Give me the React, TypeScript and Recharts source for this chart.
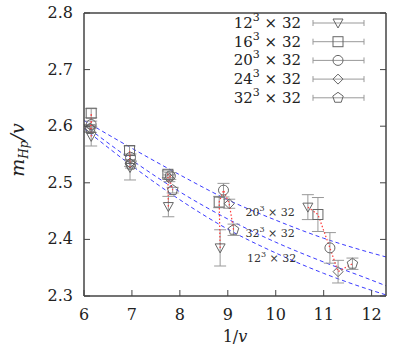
import React from "react";
import { ComposedChart, Scatter, Line, XAxis, YAxis, ErrorBar, ReferenceDot, Legend, Label } from "recharts";

// lattice sizes L (L^3 x 32)
const sizes = ["12", "16", "20", "24", "32"];
const xTicks = [6, 7, 8, 9, 10, 11, 12];
const yTicks = [2.3, 2.4, 2.5, 2.6, 2.7, 2.8];

// 1/v, m_Hp/v and errors, one array each per lattice
const invV12 = [6.15, 6.96, 7.76, 8.84, 10.67];
const m12 = [2.582, 2.527, 2.458, 2.385, 2.457];
const err12 = [0.017, 0.022, 0.018, 0.032, 0.022];

const invV16 = [6.15, 6.95, 7.75, 8.82, 10.88];
const m16 = [2.623, 2.557, 2.515, 2.466, 2.444];
const err16 = [0.008, 0.008, 0.006, 0.01, 0.03];

const invV20 = [6.15, 6.97, 7.8, 8.91, 11.13];
const m20 = [2.603, 2.545, 2.512, 2.487, 2.385];
const err20 = [0.006, 0.006, 0.006, 0.012, 0.027];

const invV24 = [6.12, 6.96, 7.78, 9.03, 11.3];
const m24 = [2.597, 2.535, 2.508, 2.463, 2.343];
const err24 = [0.006, 0.006, 0.006, 0.008, 0.02];

const invV32 = [6.13, 6.98, 7.85, 9.12, 11.6];
const m32 = [2.595, 2.532, 2.487, 2.417, 2.357];
const err32 = [0.006, 0.006, 0.005, 0.01, 0.01];

// fit curves (dashed blue)
const fitX = [6, 7, 8, 9, 10, 11, 12, 12.3];
const fit20 = [2.61, 2.561, 2.514, 2.47, 2.434, 2.402, 2.376, 2.369];
const fit32 = [2.602, 2.54, 2.484, 2.436, 2.395, 2.36, 2.328, 2.318];
const fit12 = [2.596, 2.53, 2.47, 2.418, 2.376, 2.34, 2.31, 2.302];

const serif = "DejaVu Serif, serif";
const frame = "#444";
const ptColor = "#666";
const barColor = "#999";

const toPts = (xs: number[], ys: number[], es: number[]) =>
  xs.map((x, i) => ({ x, y: ys[i], err: es[i] }));

const series = [
  { name: sizes[0], kind: "tri", data: toPts(invV12, m12, err12) },
  { name: sizes[1], kind: "sq", data: toPts(invV16, m16, err16) },
  { name: sizes[2], kind: "circ", data: toPts(invV20, m20, err20) },
  { name: sizes[3], kind: "dia", data: toPts(invV24, m24, err24) },
  { name: sizes[4], kind: "pent", data: toPts(invV32, m32, err32) },
];

// same bare parameters across volumes -> joined by red dots
const groups = invV12.map((_, i) => series.map(s => s.data[i]));

const fitLine = (ys: number[]) => fitX.map((x, i) => ({ x, y: ys[i] }));

function marker(kind: string, cx: number, cy: number) {
  const p = { fill: "none", stroke: ptColor, strokeWidth: 1 };
  if (kind === "tri") return <polygon {...p} points={`${cx - 5},${cy - 4} ${cx + 5},${cy - 4} ${cx},${cy + 5}`} />;
  if (kind === "sq") return <rect {...p} x={cx - 5} y={cy - 5} width={10} height={10} />;
  if (kind === "circ") return <circle {...p} cx={cx} cy={cy} r={5} />;
  if (kind === "dia") return <polygon {...p} points={`${cx},${cy - 5} ${cx + 5},${cy} ${cx},${cy + 5} ${cx - 5},${cy}`} />;
  const pts = [0, 1, 2, 3, 4].map(k => {
    const a = -Math.PI / 2 + (k * 2 * Math.PI) / 5;
    return `${cx + 5.5 * Math.cos(a)},${cy + 5.5 * Math.sin(a)}`;
  });
  return <polygon {...p} points={pts.join(" ")} />;
}

const txt = { fontFamily: serif, fill: "#222" };

const BottomTick = ({ x, y, payload }: any) => (
  <g>
    <line x1={x} y1={y} x2={x} y2={y - 6} stroke={frame} />
    <text x={x} y={y + 24} textAnchor="middle" style={{ ...txt, fontSize: 16 }}>{payload.value}</text>
  </g>
);
const TopTick = ({ x, y }: any) => <line x1={x} y1={y} x2={x} y2={y + 6} stroke={frame} />;
const LeftTick = ({ x, y, payload }: any) => (
  <g>
    <line x1={x} y1={y} x2={x + 6} y2={y} stroke={frame} />
    <text x={x - 11} y={y + 5} textAnchor="end" style={{ ...txt, fontSize: 16 }}>{payload.value.toFixed(1)}</text>
  </g>
);
const RightTick = ({ x, y }: any) => <line x1={x} y1={y} x2={x - 6} y2={y} stroke={frame} />;

const LegendBox = () => (
  <svg width={170} height={100} style={{ display: "block" }}>
    {series.map((s, i) => {
      const cy = 14 + i * 18.7;
      return (
        <g key={s.name}>
          <text x={81} y={cy + 5} textAnchor="end" style={{ ...txt, fontSize: 15 }}>
            {s.name}
            <tspan dy={-7} fontSize={11}>3</tspan>
            <tspan dy={7}> × 32</tspan>
          </text>
          <line x1={93} x2={144} y1={cy} y2={cy} stroke={barColor} />
          <line x1={93} x2={93} y1={cy - 3} y2={cy + 3} stroke={barColor} />
          <line x1={144} x2={144} y1={cy - 3} y2={cy + 3} stroke={barColor} />
          {marker(s.kind, 118, cy)}
        </g>
      );
    })}
  </svg>
);

const FitLabel = (name: string) => ({ viewBox }: any) => (
  <text x={viewBox.x} y={viewBox.y + 4} style={{ ...txt, fontSize: 11, fill: "#333" }}>
    {name}
    <tspan dy={-5} fontSize={8}>3</tspan>
    <tspan dy={5}> × 32</tspan>
  </text>
);

export default function App() {
  return (
    <div>
      <style>{`body{margin:0}`}</style>
      <ComposedChart width={399} height={353} margin={{ top: 12, right: 12, bottom: 27, left: 44 }}>
        <XAxis
          dataKey="x" type="number" domain={[6, 12.3]} ticks={xTicks} allowDataOverflow
          height={30} tickSize={0} tickMargin={0} tickLine={false} tick={<BottomTick />}
          axisLine={{ stroke: frame, strokeWidth: 1.5 }}
        >
          <Label content={({ viewBox }: any) => (
            <text x={viewBox.x + viewBox.width / 2} y={viewBox.y + 46} textAnchor="middle" style={{ ...txt, fontSize: 16 }}>
              1/<tspan fontStyle="italic">v</tspan>
            </text>
          )} />
        </XAxis>
        <XAxis
          xAxisId="top" orientation="top" type="number" domain={[6, 12.3]} ticks={xTicks} allowDataOverflow
          height={1} tickSize={0} tickMargin={0} tickLine={false} tick={<TopTick />}
          axisLine={{ stroke: frame, strokeWidth: 1.5 }}
        />
        <YAxis
          dataKey="y" type="number" domain={[2.3, 2.8]} ticks={yTicks} allowDataOverflow
          width={40} tickSize={0} tickMargin={0} tickLine={false} tick={<LeftTick />}
          axisLine={{ stroke: frame, strokeWidth: 1.5 }}
        >
          <Label content={() => (
            <text transform="translate(24,150) rotate(-90)" textAnchor="middle" style={{ ...txt, fontSize: 19, fontStyle: "italic" }}>
              m<tspan fontSize={12} dy={4}>Hp</tspan><tspan dy={-4}>/v</tspan>
            </text>
          )} />
        </YAxis>
        <YAxis
          yAxisId="right" orientation="right" type="number" domain={[2.3, 2.8]} ticks={yTicks} allowDataOverflow
          width={1} tickSize={0} tickMargin={0} tickLine={false} tick={<RightTick />}
          axisLine={{ stroke: frame, strokeWidth: 1.5 }}
        />

        <Line data={fitLine(fit20)} dataKey="y" type="monotone" stroke="#3b3bff" strokeWidth={1} strokeDasharray="4 3" dot={false} isAnimationActive={false} />
        <Line data={fitLine(fit32)} dataKey="y" type="monotone" stroke="#3b3bff" strokeWidth={1} strokeDasharray="4 3" dot={false} isAnimationActive={false} />
        <Line data={fitLine(fit12)} dataKey="y" type="monotone" stroke="#3b3bff" strokeWidth={1} strokeDasharray="4 3" dot={false} isAnimationActive={false} />

        {groups.map((g, i) => (
          <Scatter key={"g" + i} data={g} dataKey="y" line={{ stroke: "#ff3a3a", strokeDasharray: "1.5 2", strokeWidth: 1.2 }}
            shape={() => <g />} isAnimationActive={false} legendType="none" />
        ))}

        {series.map(s => (
          <Scatter key={s.name} data={s.data} dataKey="y" isAnimationActive={false}
            shape={(props: any) => marker(s.kind, props.cx, props.cy)}>
            <ErrorBar dataKey="err" direction="y" width={6} stroke={barColor} strokeWidth={1} />
          </Scatter>
        ))}

        <ReferenceDot x={9.37} y={2.449} r={0} label={FitLabel("20")} />
        <ReferenceDot x={9.37} y={2.411} r={0} label={FitLabel("32")} />
        <ReferenceDot x={9.4} y={2.367} r={0} label={FitLabel("12")} />

        <Legend layout="vertical" align="center" verticalAlign="middle" content={() => <LegendBox />}
          wrapperStyle={{ top: 9, left: 220, width: 170, height: 100 }} />
      </ComposedChart>
    </div>
  );
}
